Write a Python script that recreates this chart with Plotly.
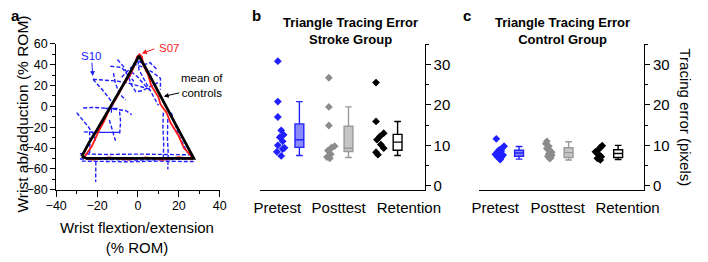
import plotly.graph_objects as go

W, H = 708, 262
FONT = "Liberation Sans, Arial, sans-serif"

# ---------------- Panel a data (Wrist angles, % ROM) ----------------
mean_x = [-27.5, -24, -20, -16.5, -13, -9.5, -6, -2.5, 0.5, 4, 7, 10.5, 14, 17.5, 21, 24.5, 27.3, 20, 10, 0, -10, -20, -25, -27.5]
mean_y = [-48, -35, -22.5, -11, 0.5, 13, 25, 37, 48.5, 36, 24.5, 12, -1, -14, -26.5, -40, -50, -50, -50, -50, -50, -50, -50, -48]

s07_x = [-26, -22.5, -19.5, -16.5, -14, -10.5, -7.5, -3.5, -1.2, -0.5, 0.8, 2, 2.5, 5, 6.5, 10, 11, 14, 16, 19.8, 22.5, 25.8, 26.8, 20, 12, 4, -5, -14, -22, -26.8, -26]
s07_y = [-48, -38, -25, -14, -3, 8, 19, 31, 42, 47.5, 50, 47.5, 40, 30, 20, 9, 2, -6, -16, -28, -40, -47, -51.2, -48.8, -51.3, -49, -51.2, -48.9, -51, -49.5, -48]

s10_x = [-22, -16, -10, -4, 1, 5, None,
         -13.5, -8, -5, -3, -1, 2, 7, 10, None,
         -2.5, 2, 7, 11, 11, None,
         0, 0.5, 3, 5.6, 8, 10, None,
         -3.3, 0, 3, 6, None,
         -10, -7, -5, -2, None,
         -12, -11, -9, -6, None,
         -26.8, -22, -17, -13.5, -10, -6, -3, None,
         -30, -27, -24.5, -22, -20.6, None,
         -14, -12.5, -11, None,
         -9, -8.5, -9, None,
         -26.5, -20.6, None,
         12.4, 12.2, 12.6, 12.4, None,
         14.6, 14.4, 14.8, 14.6, None,
         16.3, 18, 20, 22.6, 24, None,
         -28.4, -15, 0, 15, 25.5, None,
         27.3, 10, -5, -18, -28.4, None,
         -28.4, -15, 0, 15, 26, None,
         -20.6, -20.5, -20.7, None,
         -23.7, -23.5, -23.7, None,
         -22, -17, -13, -12, None,
         -8, -4, 0, 3, 6, 9]
s10_y = [26, 25.5, 24.3, 22, 19, 17, None,
         38.5, 37.5, 30, 20, 14, 15, 20, 23, None,
         41, 38, 33, 27, 16, None,
         44, 35, 26, 16, 8, 1, None,
         33.4, 28, 21, 15.2, None,
         45, 38, 31, 24, None,
         32, 22, 12, 6, None,
         -1.5, -1, -1.5, -2, -3, -4, -8, None,
         -6, -13, -19, -26, -33.4, None,
         -13, -23, -33, None,
         -5, -15, -27, None,
         -24.5, -25, None,
         -6, -20, -35, -48.5, None,
         -12, -30, -45, -60.5, None,
         -6, -16, -28, -38, -44, None,
         -45.5, -46.2, -45.8, -46.4, -46.5, None,
         -53, -52.6, -53.2, -52.7, -52.5, None,
         -50.5, -50.8, -51.5, -51, -50.5, None,
         -53, -62, -72.5, None,
         -24, -35, -47, None,
         26, 15, 5, -2, None,
         28, 36, 44, 40, 42, 36]
s10_solid_x = [-20.6, -8.8, None, -16, -10, None, -13, -13]
s10_solid_y = [-24.9, -24.9, None, -2, -2, None, -6, 2]

# ---------------- Panels b, c data (Tracing error, pixels) ----------------
sessions = ["Pretest", "Posttest", "Retention"]

stroke_pre = [30.8, 20.8, 17.0, 13.7, 12.6, 12.0, 11.0, 10.0, 9.4, 9.1, 8.4, 7.4]
stroke_pre_jit = [-2, -2, -2, 1.5, 4, 0, 3, -2, 5, 3, -3, 1.5]
stroke_post = [26.7, 19.5, 14.9, 9.8, 9.5, 9.0, 8.7, 7.8, 7.1, 6.8]
stroke_post_jit = [0, 0, 0, 6, 3, 1, -1, 2, -2, 1]
stroke_ret = [25.5, 15.9, 13.0, 12.2, 11.4, 10.2, 9.3, 8.3, 7.7]
stroke_ret_jit = [-2, -2, 6, 2, -1, 3, 6, -2, 0]

stroke_q1 = [9.5, 8.5, 8.8]
stroke_med = [11.4, 9.3, 10.8]
stroke_q3 = [15.3, 14.7, 12.7]
stroke_lo = [7.5, 7.0, 7.5]
stroke_hi = [20.8, 19.5, 15.9]

ctrl_pre = [11.6, 9.8, 9.3, 8.9, 8.6, 8.3, 8.0, 7.8, 7.6, 7.4, 7.2, 7.0, 6.8, 6.5]
ctrl_pre_jit = [-3, 5, 3, 0, 2, -2, 1, -4, 4, 0, -2, 2, 0, 1]
ctrl_post = [11.0, 10.4, 9.8, 9.2, 8.7, 8.3, 7.9, 7.6, 7.3, 7.0, 6.7]
ctrl_post_jit = [-2, -3, 0, -2, 1, 3, 0, 3, -1, 2, 1]
ctrl_ret = [9.9, 9.5, 8.9, 8.4, 8.0, 7.6, 7.2, 6.8, 6.4]
ctrl_ret_jit = [4, 2, 0, -3, -1, 1, 3, -1, 2]

ctrl_q1 = [7.3, 7.0, 7.0]
ctrl_med = [8.1, 8.2, 8.0]
ctrl_q3 = [8.8, 9.4, 8.9]
ctrl_lo = [6.6, 6.4, 6.5]
ctrl_hi = [9.7, 10.9, 10.0]

dot_colors = ["#1f1fff", "#8c8c8c", "#000000"]
box_fills = ["#8a8aff", "#c6c6c6", "#ffffff"]
box_lines = ["#2323ff", "#9a9a9a", "#000000"]

fig = go.Figure()

# panel a traces
fig.add_trace(go.Scatter(x=s10_x, y=s10_y, mode="lines", xaxis="x", yaxis="y",
                         line=dict(color="#2020ff", width=1.4, dash="4px,2px"), showlegend=False))
fig.add_trace(go.Scatter(x=s10_solid_x, y=s10_solid_y, mode="lines", xaxis="x", yaxis="y",
                         line=dict(color="#2020ff", width=1.3), showlegend=False))
fig.add_trace(go.Scatter(x=s07_x, y=s07_y, mode="lines", xaxis="x", yaxis="y",
                         line=dict(color="#ff1a1a", width=1.8), showlegend=False))
fig.add_trace(go.Scatter(x=mean_x, y=mean_y, mode="lines", xaxis="x", yaxis="y",
                         line=dict(color="black", width=2.8), showlegend=False))

UNIT_PX = 51.0  # pixels per category unit in panels b/c (jitter was read in px)

def add_group_panel(xa, ya, groups, q1, med, q3, lo, hi):
    for i, (vals, jit) in enumerate(groups):
        center = i + 1
        fig.add_trace(go.Scatter(
            x=[center - 0.2 + j / UNIT_PX for j in jit], y=vals, mode="markers",
            xaxis=xa, yaxis=ya, showlegend=False,
            marker=dict(symbol="diamond", size=6, color=dot_colors[i], line=dict(width=0))))
        fig.add_trace(go.Box(
            x=[center + 0.2], q1=[q1[i]], median=[med[i]], q3=[q3[i]],
            lowerfence=[lo[i]], upperfence=[hi[i]], boxpoints=False,
            xaxis=xa, yaxis=ya, showlegend=False, width=0.18, whiskerwidth=0.75,
            fillcolor=box_fills[i], line=dict(color=box_lines[i], width=1.4)))

add_group_panel("x2", "y2",
                [(stroke_pre, stroke_pre_jit), (stroke_post, stroke_post_jit), (stroke_ret, stroke_ret_jit)],
                stroke_q1, stroke_med, stroke_q3, stroke_lo, stroke_hi)
add_group_panel("x3", "y3",
                [(ctrl_pre, ctrl_pre_jit), (ctrl_post, ctrl_post_jit), (ctrl_ret, ctrl_ret_jit)],
                ctrl_q1, ctrl_med, ctrl_q3, ctrl_lo, ctrl_hi)

def px2x(px):
    return px / W

def px2y(py):
    return 1 - py / H

ydom = [px2y(193), px2y(39)]
tickfont_a = dict(family=FONT, size=12.5, color="black")
tickfont_b = dict(family=FONT, size=15, color="black")

axis_common = dict(showgrid=False, zeroline=False, showline=True, linecolor="black", linewidth=1)

fig.update_layout(
    width=W, height=H, margin=dict(l=0, r=0, t=0, b=0),
    paper_bgcolor="white", plot_bgcolor="white",
    font=dict(family=FONT, color="black"),
    xaxis=dict(domain=[px2x(47), px2x(217)], range=[-40, 40], anchor="y",
               tickvals=[-40, -20, 0, 20, 40], ticks="outside", ticklen=6, tickcolor="black",
               minor=dict(dtick=10, tick0=0, ticks="outside", ticklen=3, tickcolor="black"),
               ticklabelstandoff=-2, tickfont=tickfont_a, **axis_common),
    yaxis=dict(domain=ydom, range=[-80, 60], anchor="x",
               tickvals=[-80, -60, -40, -20, 0, 20, 40, 60], ticks="outside", ticklen=5, tickcolor="black",
               minor=dict(dtick=10, tick0=0, ticks="outside", ticklen=3, tickcolor="black"),
               tickfont=tickfont_a, **axis_common),
    xaxis2=dict(domain=[px2x(259), px2x(430)], range=[0.4, 3.75], anchor="y2",
                tickvals=[0.75, 2.0, 3.43], ticktext=sessions, ticks="",
                ticklabelstandoff=4, tickfont=tickfont_b, **axis_common),
    yaxis2=dict(domain=ydom, range=[-0.95, 35.05], anchor="x2", side="right",
                tickvals=[0, 10, 20, 30], ticks="outside", ticklen=5, tickcolor="black",
                minor=dict(dtick=5, tick0=0, ticks="outside", ticklen=3, tickcolor="black"),
                tickfont=tickfont_b, **axis_common),
    xaxis3=dict(domain=[px2x(487), px2x(658)], range=[0.4, 3.72], anchor="y3",
                tickvals=[0.72, 1.98, 3.39], ticktext=sessions, ticks="",
                ticklabelstandoff=4, tickfont=tickfont_b, **axis_common),
    yaxis3=dict(domain=ydom, range=[-0.95, 35.05], anchor="x3", side="right",
                tickvals=[0, 10, 20, 30], ticks="outside", ticklen=5, tickcolor="black",
                minor=dict(dtick=5, tick0=0, ticks="outside", ticklen=3, tickcolor="black"),
                tickfont=tickfont_b, **axis_common),
)

ann = []
def text_ann(text, px, py, size, color="black", bold=False, angle=0, align="center"):
    if bold:
        text = "<b>" + text.replace("<br>", "</b><br><b>") + "</b>"
    ann.append(dict(text=text, x=px2x(px), y=px2y(py), xref="paper", yref="paper",
                    xanchor="center", yanchor="middle", showarrow=False, textangle=angle,
                    align=align, font=dict(family=FONT, size=size, color=color)))

# panel letters
text_ann("a", 5, 9, 15, bold=True)
text_ann("b", 255, 9, 15, bold=True)
text_ann("c", 474, 9, 15, bold=True)
# panel titles
text_ann("Triangle Tracing Error<br>Stroke Group", 353, 25, 13, bold=True)
text_ann("Triangle Tracing Error<br>Control Group", 573, 25, 13, bold=True)
# axis titles
text_ann("Wrist flextion/extension<br>(% ROM)", 131, 244, 15)
text_ann("Wrist ab/adduction (% ROM)", 12, 113, 15.5, angle=-90)
text_ann("Tracing error (pixels)", 701, 117, 15, angle=90)
# panel a labels
text_ann("S10", 83, 52, 11.5, color="#2020ff")
text_ann("S07", 164, 43, 11.5, color="#ff1a1a")
text_ann("mean of<br>controls", 199, 83, 11.5)

def arrow_ann(x, y, ax, ay, color):
    ann.append(dict(text="", x=x, y=y, xref="x", yref="y", ax=ax, ay=ay,
                    showarrow=True, arrowhead=2, arrowsize=1, arrowwidth=1, arrowcolor=color))

arrow_ann(-22.1, 29.1, -1, -15, "#2020ff")
arrow_ann(1.9, 50.9, 14, -5, "#ff1a1a")
arrow_ann(12.6, 9.5, 17, -4, "black")

fig.update_layout(annotations=ann)
fig.write_html("out.html", config={"displayModeBar": False},
               post_script="document.body.style.margin='0';document.body.style.overflow='hidden';")
